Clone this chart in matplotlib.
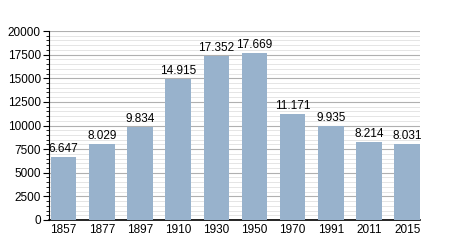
import matplotlib
matplotlib.use('Agg')
import matplotlib.pyplot as plt
from matplotlib.ticker import MultipleLocator

# Data
years = ['1857', '1877', '1897', '1910', '1930', '1950', '1970', '1991', '2011', '2015']
population = [6647, 8029, 9834, 14915, 17352, 17669, 11171, 9935, 8214, 8031]

plt.rcParams['font.family'] = ['Liberation Sans', 'DejaVu Sans']

fig = plt.figure(figsize=(4.5, 2.5), dpi=100)
ax = fig.add_axes([0.109, 0.12, 0.824, 0.756])

x = range(len(years))
bars = ax.bar(x, population, width=0.67, color='#98b2cc', zorder=3)

# value labels with dot as thousands separator
for xi, v in zip(x, population):
    ax.text(xi, v + 250, f'{v:,}'.replace(',', '.'), ha='center', va='bottom',
            fontsize=8.5, zorder=4)

ax.set_xlim(-0.38, len(years) - 0.67)
ax.set_ylim(0, 20000)
ax.set_xticks(list(x))
ax.set_xticklabels(years, fontsize=8.5)
ax.tick_params(axis='x', length=0, pad=3)

ax.yaxis.set_major_locator(MultipleLocator(2500))
ax.yaxis.set_minor_locator(MultipleLocator(500))
ax.tick_params(axis='y', which='major', length=4, labelsize=8.5, pad=2)
ax.tick_params(axis='y', which='minor', length=2)

ax.grid(axis='y', which='major', color='#b0b0b0', linewidth=0.8, zorder=0)
ax.grid(axis='y', which='minor', color='#e0e0e0', linewidth=0.6, zorder=0)

for s in ['top', 'right']:
    ax.spines[s].set_visible(False)
ax.spines['left'].set_color('black')
ax.spines['bottom'].set_color('black')
ax.spines['bottom'].set_linewidth(1.2)

fig.savefig('out.png', dpi=100)
